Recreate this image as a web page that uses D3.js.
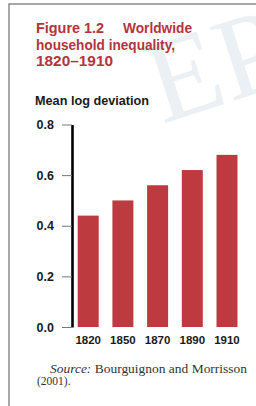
<!DOCTYPE html>
<html>
<head>
<meta charset="utf-8">
<script src="https://cdn.jsdelivr.net/npm/d3@7"></script>
<style>
  body { margin: 0; background: #fff; }
  svg { display: block; }
</style>
</head>
<body>
<svg width="256" height="406"></svg>
<script>
var svg = d3.select("svg"),
    width = +svg.attr("width"),
    height = +svg.attr("height");

var years = ["1820", "1850", "1870", "1890", "1910"];
var mld = [0.44, 0.50, 0.56, 0.62, 0.68];
var yTicks = [0, 0.2, 0.4, 0.6, 0.8];
var titleLines = ["household inequality,", "1820\u20131910"];

var barColor = "#bd3a3e";
var titleColor = "#b3343c";
var sansBold = "'Liberation Sans', Arial, sans-serif";

// faint watermark behind everything
svg.append("text")
    .attr("transform", "translate(162,124) rotate(-18)")
    .attr("font-family", "'Liberation Serif', serif")
    .attr("font-size", 118)
    .attr("fill", "#ebf0f5")
    .text("EP");

// page frame (top and left edge)
svg.append("path")
    .attr("d", "M9,406V4H256")
    .attr("fill", "none")
    .attr("stroke", "#8a8a8a")
    .attr("stroke-width", 1.5);

// title
var title = svg.append("g")
    .attr("font-family", sansBold)
    .attr("font-weight", "bold")
    .attr("font-size", 15)
    .attr("fill", titleColor);

title.append("text").attr("x", 36).attr("y", 33)
    .attr("textLength", 68).attr("lengthAdjust", "spacingAndGlyphs")
    .text("Figure 1.2");
title.append("text").attr("x", 123).attr("y", 33)
    .attr("textLength", 69).attr("lengthAdjust", "spacingAndGlyphs")
    .text("Worldwide");
title.append("text").attr("x", 36).attr("y", 49.5)
    .attr("textLength", 139).attr("lengthAdjust", "spacingAndGlyphs")
    .text(titleLines[0]);
title.append("text").attr("x", 36).attr("y", 66)
    .attr("textLength", 77).attr("lengthAdjust", "spacingAndGlyphs")
    .text(titleLines[1]);

// axis title
svg.append("text")
    .attr("x", 35).attr("y", 105)
    .attr("font-family", sansBold)
    .attr("font-weight", "bold")
    .attr("font-size", 12.5)
    .attr("fill", "#1a1a1a")
    .attr("textLength", 114).attr("lengthAdjust", "spacingAndGlyphs")
    .text("Mean log deviation");

var y = d3.scaleLinear()
    .domain([0, 0.8])
    .range([327, 124.5]);

var x = d3.scaleBand()
    .domain(years)
    .range([72.5, 242.7])
    .paddingInner(0.395)
    .paddingOuter(0.15);

// bars
svg.append("g")
  .selectAll("rect")
  .data(years)
  .enter().append("rect")
    .attr("x", function(d) { return x(d); })
    .attr("width", x.bandwidth())
    .attr("y", function(d, i) { return y(mld[i]); })
    .attr("height", function(d, i) { return y(0) - y(mld[i]); })
    .attr("fill", barColor);

// y axis
var yAxis = svg.append("g")
    .attr("transform", "translate(72,0)")
    .call(d3.axisLeft(y)
      .tickValues(yTicks)
      .tickFormat(d3.format(".1f"))
      .tickSize(10)
      .tickSizeOuter(0)
      .tickPadding(8));

yAxis.select(".domain")
    .attr("stroke", "#000")
    .attr("stroke-width", 2.6);
yAxis.selectAll(".tick line")
    .attr("stroke", "#777")
    .attr("stroke-width", 1);
yAxis.selectAll(".tick text")
    .attr("font-family", sansBold)
    .attr("font-weight", "bold")
    .attr("font-size", 12.5)
    .attr("fill", "#1a1a1a");

// year labels
svg.append("g")
  .selectAll("text")
  .data(years)
  .enter().append("text")
    .attr("x", function(d) { return x(d) + x.bandwidth() / 2; })
    .attr("y", 344)
    .attr("text-anchor", "middle")
    .attr("font-family", sansBold)
    .attr("font-weight", "bold")
    .attr("font-size", 11.5)
    .attr("fill", "#1a1a1a")
    .text(function(d) { return d; });

// source note
var src = svg.append("text")
    .attr("x", 50).attr("y", 373)
    .attr("font-family", "'Liberation Serif', 'Times New Roman', serif")
    .attr("font-size", 11.5)
    .attr("fill", "#333")
    .attr("textLength", 197).attr("lengthAdjust", "spacingAndGlyphs");
src.append("tspan").attr("font-style", "italic").text("Source:");
src.append("tspan").text(" Bourguignon and Morrisson");

svg.append("text")
    .attr("x", 37).attr("y", 385)
    .attr("font-family", "'Liberation Serif', 'Times New Roman', serif")
    .attr("font-size", 11.5)
    .attr("fill", "#333")
    .text("(2001).");
</script>
</body>
</html>
